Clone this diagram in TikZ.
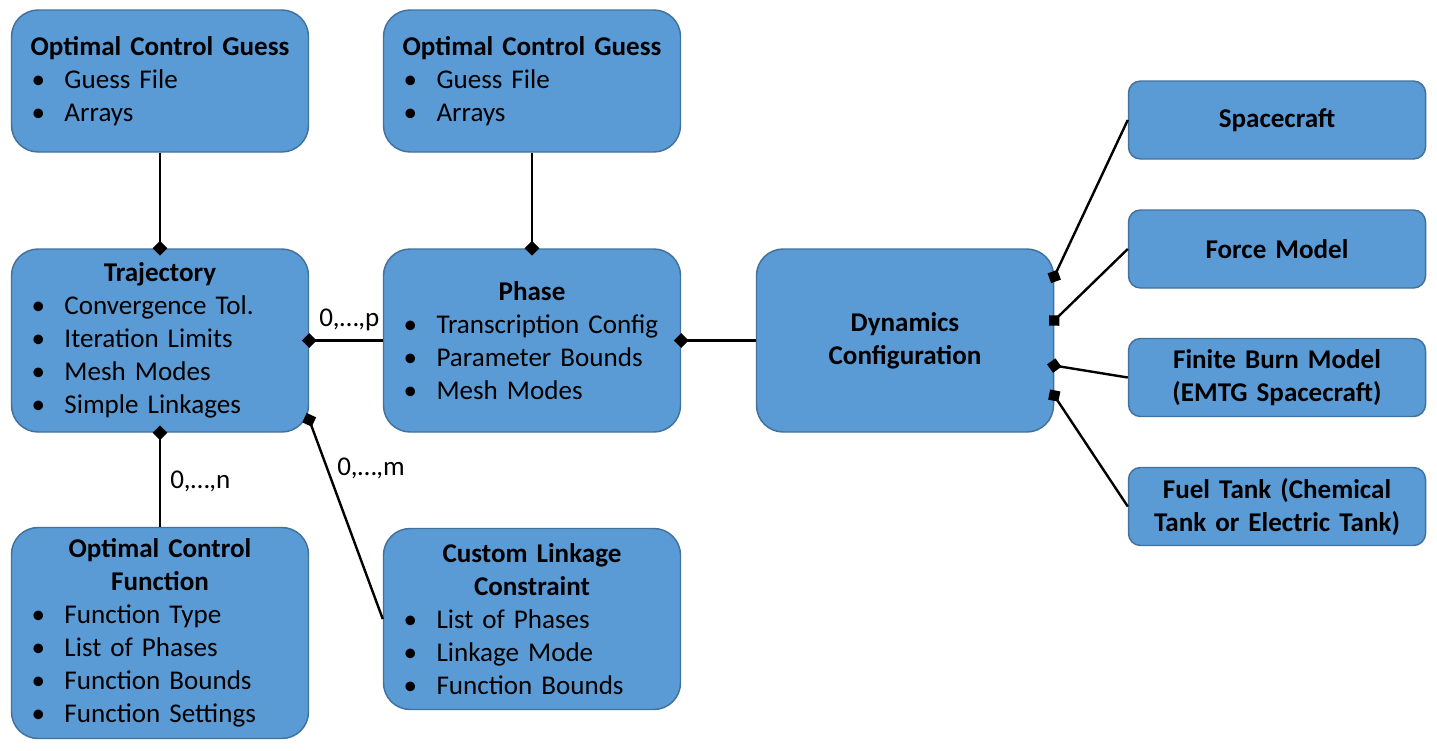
\documentclass[tikz,border=0pt]{standalone}
\usepackage{fontspec}
\setmainfont{Carlito}
\usetikzlibrary{arrows.meta}

\definecolor{boxfill}{HTML}{5B9BD5}
\definecolor{boxline}{HTML}{41719C}

\newlength{\bw}\setlength{\bw}{192.75pt}  % text block width (257px)
\newlength{\bi}\setlength{\bi}{24.75pt}   % bullet indent (33px)
\newcommand{\ttl}[1]{\makebox[\bw]{\bfseries #1}}
\newcommand{\itm}[1]{\makebox[\bw][l]{\makebox[\bi][l]{•}#1}}

\begin{document}
\begin{tikzpicture}[x=0.75pt, y=-0.75pt,
    font=\fontsize{20.3}{24.75}\selectfont,
    card/.style={draw=boxline, fill=boxfill, line width=1.1pt, rounded corners=20pt,
        inner sep=0pt, align=center, text width=\bw, minimum width=222.75pt},
    small card/.style={card, rounded corners=9pt, minimum height=58.5pt},
    link/.style={line width=1.8pt, black, >={Diamond[length=11pt, width=11pt]}},
    tag/.style={anchor=base west, inner sep=0pt}]
    % Page frame, in pixels of the reference
    \useasboundingbox (0,0) rectangle (1437,750);

    % Guesses
    \node[card, minimum height=106.5pt] (ocgL) at (160,81) {\ttl{Optimal Control Guess}\\ \itm{Guess File}\\ \itm{Arrays}};
    \node[card, minimum height=106.5pt] (ocgM) at (532,81) {\ttl{Optimal Control Guess}\\ \itm{Guess File}\\ \itm{Arrays}};

    % Middle row
    \node[card, minimum height=137.25pt] (traj) at (160,340.5) {\ttl{Trajectory}\\ \itm{Convergence Tol.}\\ \itm{Iteration Limits}\\ \itm{Mesh Modes}\\ \itm{Simple Linkages}};
    \node[card, minimum height=137.25pt] (phase) at (532,340.5) {\ttl{Phase}\\ \itm{Transcription Config}\\ \itm{Parameter Bounds}\\ \itm{Mesh Modes}};
    \node[card, minimum height=137.25pt] (dyn) at (905,340.5) {\ttl{Dynamics}\\ \ttl{Configuration}};

    % Bottom row
    \node[card, minimum height=158.25pt] (ocf) at (160,633) {\ttl{Optimal Control}\\ \ttl{Function}\\ \itm{Function Type}\\ \itm{List of Phases}\\ \itm{Function Bounds}\\ \itm{Function Settings}};
    \node[card, minimum height=135.75pt] (cl) at (532,619) {\ttl{Custom Linkage}\\ \ttl{Constraint}\\ \itm{List of Phases}\\ \itm{Linkage Mode}\\ \itm{Function Bounds}};

    % Dynamics parts
    \node[small card] (sc) at (1277,120) {\ttl{Spacecraft}};
    \node[small card] (fm) at (1277,249) {\ttl{Force Model}};
    \node[small card] (fb) at (1277,377.5) {\ttl{Finite Burn Model}\\ \ttl{(EMTG Spacecraft)}};
    \node[small card] (ft) at (1277,506.5) {\ttl{Fuel Tank (Chemical}\\ \ttl{Tank or Electric Tank)}};

    % Links, diamond on the owner side
    \draw[link, ->, shorten >=-5.5pt] (ocgL) -- (traj);
    \draw[link, ->, shorten >=-5.5pt] (ocgM) -- (phase);
    \draw[link, <-, shorten <=-5.5pt] (traj) -- (phase);
    \draw[link, <-, shorten <=-5.5pt] (traj) -- (ocf);
    \draw[link, <-, shorten <=-5.5pt] (traj.-28) -- (cl.west);
    \draw[link, <-, shorten <=-5.5pt] (phase) -- (dyn);
    \draw[link, <-, shorten <=-5.5pt] ([yshift=48pt]dyn.east) -- (sc.west);
    \draw[link, <-, shorten <=-5.5pt] ([yshift=15pt]dyn.east) -- (fm.west);
    \draw[link, <-, shorten <=-5.5pt] ([yshift=-18.8pt]dyn.east) -- (fb.west);
    \draw[link, <-, shorten <=-5.5pt] ([yshift=-41.3pt]dyn.east) -- (ft.west);

    % Multiplicities
    \node[tag] (np) at (319,326) {0,…,p};
    \node[tag] (nn) at (170,488) {0,…,n};
    \node[tag] (nm) at (337,475) {0,…,m};
\end{tikzpicture}
\end{document}
